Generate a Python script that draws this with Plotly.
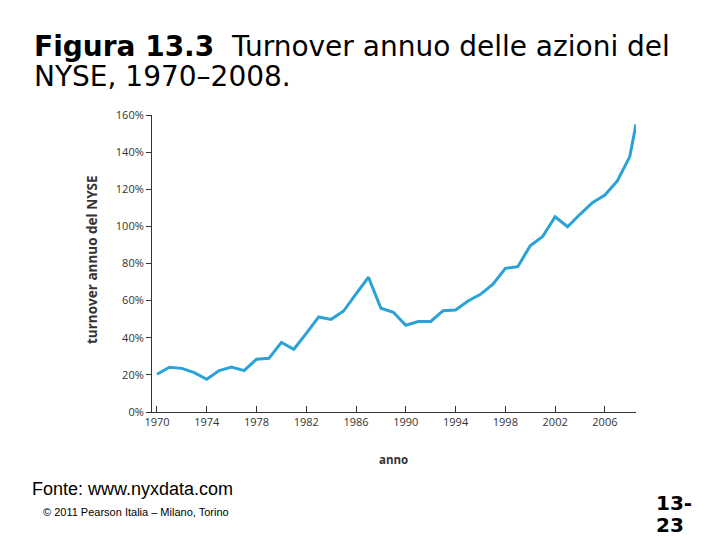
import plotly.graph_objects as go

years = [1970, 1971, 1972, 1973, 1974, 1975, 1976, 1977, 1978, 1979,
         1980, 1981, 1982, 1983, 1984, 1985, 1986, 1987, 1988, 1989,
         1990, 1991, 1992, 1993, 1994, 1995, 1996, 1997, 1998, 1999,
         2000, 2001, 2002, 2003, 2004, 2005, 2006, 2007, 2008, 2008.5]
turnover = [20.3, 24.1, 23.5, 21.2, 17.6, 22.3, 24.2, 22.3, 28.4, 28.9,
            37.5, 33.8, 42.4, 51.2, 49.9, 54.4, 63.6, 72.6, 55.9, 53.7,
            46.7, 48.7, 48.8, 54.6, 55.0, 59.8, 63.4, 68.8, 77.4, 78.3,
            89.6, 94.5, 105.2, 99.8, 106.5, 112.8, 116.9, 124.5, 137.6, 155.0]
x_ticks = [1970, 1974, 1978, 1982, 1986, 1990, 1994, 1998, 2002, 2006]
y_ticks = [0, 20, 40, 60, 80, 100, 120, 140, 160]
y_tick_labels = [f"{v}%" for v in y_ticks]

# page body has an 8px margin; compensate
OFF = 8
W, H = 720 - OFF, 540 - OFF
L, R, T, B = 152 - OFF, 636 - OFF, 115 - OFF, 412 - OFF

def px(x):
    return (x - OFF - L) / (R - L)

def py(y):
    return (B - (y - OFF)) / (B - T)

fig = go.Figure()
fig.add_trace(go.Scatter(x=years, y=turnover, mode="lines",
                         line=dict(color="#2aa2d8", width=3), showlegend=False))

axis_font = dict(family="Open Sans, Lato, sans-serif", size=11, color="#333333")
fig.update_layout(
    width=W, height=H,
    margin=dict(l=L, r=W - R, t=T, b=H - B),
    paper_bgcolor="white", plot_bgcolor="white",
    xaxis=dict(range=[1969.6, 2008.5], tickvals=x_ticks, ticktext=[str(v) for v in x_ticks],
               showgrid=False, zeroline=False, showline=True, linecolor="#333333", linewidth=1,
               ticks="inside", ticklen=6, tickcolor="#333333", tickfont=axis_font),
    yaxis=dict(range=[0, 160], tickvals=y_ticks, ticktext=y_tick_labels,
               showgrid=False, zeroline=False, showline=True, linecolor="#333333", linewidth=1,
               ticks="outside", ticklen=5, tickcolor="#333333", tickfont=axis_font),
)

ann = []
ann.append(dict(text="<b>Figura 13.3</b>  Turnover annuo delle azioni del", x=px(32), y=py(47),
                xanchor="left", yanchor="middle", showarrow=False,
                font=dict(family="DejaVu Sans", size=28, color="black")))
ann.append(dict(text="NYSE, 1970–2008.", x=px(32), y=py(76),
                xanchor="left", yanchor="middle", showarrow=False,
                font=dict(family="DejaVu Sans", size=28, color="black")))
ann.append(dict(text="<b>turnover annuo del NYSE</b>", x=px(92), y=py(260), textangle=-90,
                xanchor="center", yanchor="middle", showarrow=False,
                font=dict(family="Open Sans, Lato, sans-serif", size=13.5, color="#333333")))
ann.append(dict(text="<b>anno</b>", x=px(393), y=py(459),
                xanchor="center", yanchor="middle", showarrow=False,
                font=dict(family="Open Sans, Lato, sans-serif", size=11.5, color="#333333")))
ann.append(dict(text="Fonte: www.nyxdata.com", x=px(30), y=py(489),
                xanchor="left", yanchor="middle", showarrow=False,
                font=dict(family="Liberation Sans, Arial", size=18, color="black")))
ann.append(dict(text="© 2011 Pearson Italia – Milano, Torino", x=px(41), y=py(512),
                xanchor="left", yanchor="middle", showarrow=False,
                font=dict(family="Liberation Sans, Arial", size=11, color="black")))
ann.append(dict(text="<b>13-</b>", x=px(654), y=py(503),
                xanchor="left", yanchor="middle", showarrow=False,
                font=dict(family="DejaVu Sans", size=20, color="black")))
ann.append(dict(text="<b>23</b>", x=px(654), y=py(525),
                xanchor="left", yanchor="middle", showarrow=False,
                font=dict(family="DejaVu Sans", size=20, color="black")))
for a in ann:
    a["xref"] = "paper"
    a["yref"] = "paper"
fig.update_layout(annotations=ann)

fig.write_html("out.html")
